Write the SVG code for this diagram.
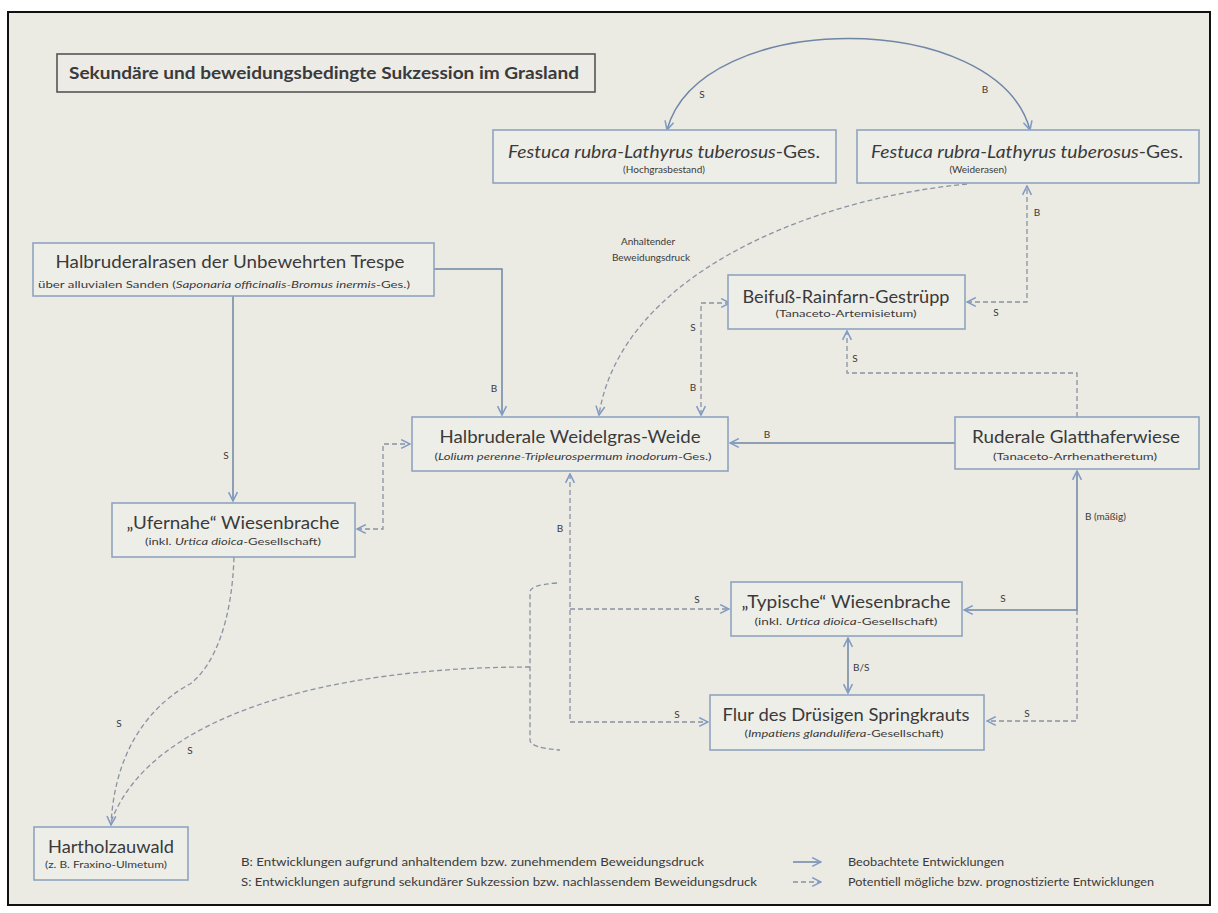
<svg xmlns="http://www.w3.org/2000/svg" width="1218" height="913" viewBox="0 0 1218 913">
<defs>
<style>
.t{font-family:Lato,"Liberation Sans",sans-serif;fill:#3a3a3a}
.m{font-size:18px;text-anchor:middle}
.s{font-size:10px;text-anchor:middle}
.l{font-size:10px;text-anchor:middle}
.g{font-size:11px}
.i{font-style:italic}
.box{fill:#eeeee9;stroke:#8fa4c0;stroke-width:1.6}
.c{fill:none;stroke:#6f86a6;stroke-width:1.5}
.d{fill:none;stroke:#8b93a3;stroke-width:1.3;stroke-dasharray:5 3}
</style>
<marker id="a" viewBox="0 0 10 10" refX="9" refY="5" markerWidth="11" markerHeight="11" markerUnits="userSpaceOnUse" orient="auto-start-reverse">
<path d="M1,1 L9,5 L1,9" fill="none" stroke="#7e9bc6" stroke-width="1.4"/>
</marker>
</defs>
<rect x="0" y="0" width="1218" height="913" fill="#ffffff"/>
<rect x="8" y="12" width="1202" height="893" fill="#ebeae3" stroke="#111" stroke-width="2"/>

<g id="title">
<rect x="57" y="54" width="538" height="38" fill="#ecebe5" stroke="#555" stroke-width="1.6"/>
<text class="t" x="324" y="79" font-size="17" font-weight="bold" text-anchor="middle" textLength="510" lengthAdjust="spacingAndGlyphs">Sekundäre und beweidungsbedingte Sukzession im Grasland</text>
</g>

<g id="connectors">
<path class="c" d="M667,130 C700,8 997,8 1030,130" marker-start="url(#a)" marker-end="url(#a)"/>
<path class="c" d="M434,269 H502 V415" marker-end="url(#a)"/>
<path class="c" d="M233,296 V501" marker-end="url(#a)"/>
<path class="c" d="M955,443 H730" marker-end="url(#a)"/>
<path class="c" d="M1077,471 V610 H964" marker-start="url(#a)" marker-end="url(#a)"/>
<path class="c" d="M848,638 V693" marker-start="url(#a)" marker-end="url(#a)"/>
<path class="d" d="M967,184 C800,200 620,280 599,415" marker-end="url(#a)"/>
<path class="d" d="M967,302 H1027 V186" marker-start="url(#a)" marker-end="url(#a)"/>
<path class="d" d="M730,303 H701 V415" marker-start="url(#a)" marker-end="url(#a)"/>
<path class="d" d="M1077,417 V373 H847 V331" marker-end="url(#a)"/>
<path class="d" d="M357,529 H383 V444 H410" marker-start="url(#a)" marker-end="url(#a)"/>
<path class="d" d="M570,474 V722 H708" marker-start="url(#a)" marker-end="url(#a)"/>
<path class="d" d="M570,609 H729" marker-end="url(#a)"/>
<path class="d" d="M1077,610 V721 H987" marker-end="url(#a)"/>
<path class="d" d="M234,557 C232,620 215,665 190,684 C160,700 115,740 111,825" marker-end="url(#a)"/>
<path class="d" d="M557,583 Q530,585 530,592 V740 Q530,748 560,750"/>
<path class="d" d="M530,667 C330,667 150,715 111,822"/>
<path class="c" d="M793,862 H821" marker-end="url(#a)"/>
<path class="d" d="M793,882 H821" marker-end="url(#a)"/>
</g>

<g id="labels">
<text class="t l" x="702" y="98">S</text>
<text class="t l" x="985" y="93">B</text>
<text class="t l" x="1037" y="216">B</text>
<text class="t l" x="996" y="316">S</text>
<text class="t l" x="855" y="362">S</text>
<text class="t l" x="693" y="331">S</text>
<text class="t l" x="693" y="391">B</text>
<text class="t l" x="494" y="392">B</text>
<text class="t l" x="226" y="459">S</text>
<text class="t l" x="767" y="438">B</text>
<text class="t l" x="648" y="245" font-size="11">Anhaltender</text>
<text class="t l" x="651" y="261" font-size="11">Beweidungsdruck</text>
<text class="t" x="1085" y="520" font-size="10">B (mäßig)</text>
<text class="t l" x="1003" y="602">S</text>
<text class="t" x="853" y="671" font-size="10">B/S</text>
<text class="t l" x="697" y="603">S</text>
<text class="t l" x="677" y="718">S</text>
<text class="t l" x="1027" y="717">S</text>
<text class="t l" x="560" y="532">B</text>
<text class="t l" x="119" y="727">S</text>
<text class="t l" x="190" y="754">S</text>
</g>

<g id="festuca-hochgras">
<rect class="box" x="493" y="130" width="343" height="53"/>
<text class="t m" x="664" y="158" font-size="17" textLength="312" lengthAdjust="spacingAndGlyphs"><tspan class="i">Festuca rubra-Lathyrus tuberosus</tspan>-Ges.</text>
<text class="t s" x="664" y="173" font-size="9">(Hochgrasbestand)</text>
</g>

<g id="festuca-weiderasen">
<rect class="box" x="857" y="130" width="342" height="53"/>
<text class="t m" x="1027" y="158" font-size="17" textLength="312" lengthAdjust="spacingAndGlyphs"><tspan class="i">Festuca rubra-Lathyrus tuberosus</tspan>-Ges.</text>
<text class="t s" x="978" y="173" font-size="9">(Weiderasen)</text>
</g>

<g id="halbruderalrasen">
<rect class="box" x="33" y="243" width="401" height="53"/>
<text class="t m" x="230" y="268" font-size="19" textLength="349" lengthAdjust="spacingAndGlyphs">Halbruderalrasen der Unbewehrten Trespe</text>
<text class="t s" x="224" y="288" font-size="11" textLength="372" lengthAdjust="spacingAndGlyphs">über alluvialen Sanden (<tspan class="i">Saponaria officinalis-Bromus inermis</tspan>-Ges.)</text>
</g>

<g id="weidelgras-weide">
<rect class="box" x="412" y="417" width="316" height="54"/>
<text class="t m" x="570" y="443" font-size="19" textLength="261" lengthAdjust="spacingAndGlyphs">Halbruderale Weidelgras-Weide</text>
<text class="t s" x="573" y="460" font-size="11" textLength="277" lengthAdjust="spacingAndGlyphs">(<tspan class="i">Lolium perenne-Tripleurospermum inodorum</tspan>-Ges.)</text>
</g>

<g id="beifuss">
<rect class="box" x="728" y="275" width="237" height="54"/>
<text class="t m" x="846" y="303" textLength="207" lengthAdjust="spacingAndGlyphs">Beifuß-Rainfarn-Gestrüpp</text>
<text class="t s" x="846" y="317" textLength="141" lengthAdjust="spacingAndGlyphs">(Tanaceto-Artemisietum)</text>
</g>

<g id="glatthaferwiese">
<rect class="box" x="955" y="417" width="244" height="52"/>
<text class="t m" x="1076" y="443" textLength="208" lengthAdjust="spacingAndGlyphs">Ruderale Glatthaferwiese</text>
<text class="t s" x="1075" y="460" textLength="164" lengthAdjust="spacingAndGlyphs">(Tanaceto-Arrhenatheretum)</text>
</g>

<g id="ufernahe">
<rect class="box" x="112" y="503" width="243" height="54"/>
<text class="t m" x="233" y="529" textLength="213" lengthAdjust="spacingAndGlyphs">„Ufernahe“ Wiesenbrache</text>
<text class="t s" x="233" y="545" textLength="176" lengthAdjust="spacingAndGlyphs">(inkl. <tspan class="i">Urtica dioica</tspan>-Gesellschaft)</text>
</g>

<g id="typische">
<rect class="box" x="731" y="582" width="231" height="54"/>
<text class="t m" x="846" y="608" textLength="209" lengthAdjust="spacingAndGlyphs">„Typische“ Wiesenbrache</text>
<text class="t s" x="846" y="625" textLength="183" lengthAdjust="spacingAndGlyphs">(inkl. <tspan class="i">Urtica dioica</tspan>-Gesellschaft)</text>
</g>

<g id="flur">
<rect class="box" x="710" y="695" width="274" height="55"/>
<text class="t m" x="846" y="721" textLength="247" lengthAdjust="spacingAndGlyphs">Flur des Drüsigen Springkrauts</text>
<text class="t s" x="844" y="737" textLength="199" lengthAdjust="spacingAndGlyphs">(<tspan class="i">Impatiens glandulifera</tspan>-Gesellschaft)</text>
</g>

<g id="hartholzauwald">
<rect class="box" x="34" y="827" width="154" height="53"/>
<text class="t m" x="111" y="853" textLength="126" lengthAdjust="spacingAndGlyphs">Hartholzauwald</text>
<text class="t s" x="106" y="868" textLength="122" lengthAdjust="spacingAndGlyphs">(z. B. Fraxino-Ulmetum)</text>
</g>

<g id="legend">
<text class="t g" x="241" y="866" textLength="463" lengthAdjust="spacingAndGlyphs">B: Entwicklungen aufgrund anhaltendem bzw. zunehmendem Beweidungsdruck</text>
<text class="t g" x="241" y="886" textLength="516" lengthAdjust="spacingAndGlyphs">S: Entwicklungen aufgrund sekundärer Sukzession bzw. nachlassendem Beweidungsdruck</text>
<text class="t g" x="848" y="866" textLength="156" lengthAdjust="spacingAndGlyphs">Beobachtete Entwicklungen</text>
<text class="t g" x="848" y="886" textLength="306" lengthAdjust="spacingAndGlyphs">Potentiell mögliche bzw. prognostizierte Entwicklungen</text>
</g>
</svg>
